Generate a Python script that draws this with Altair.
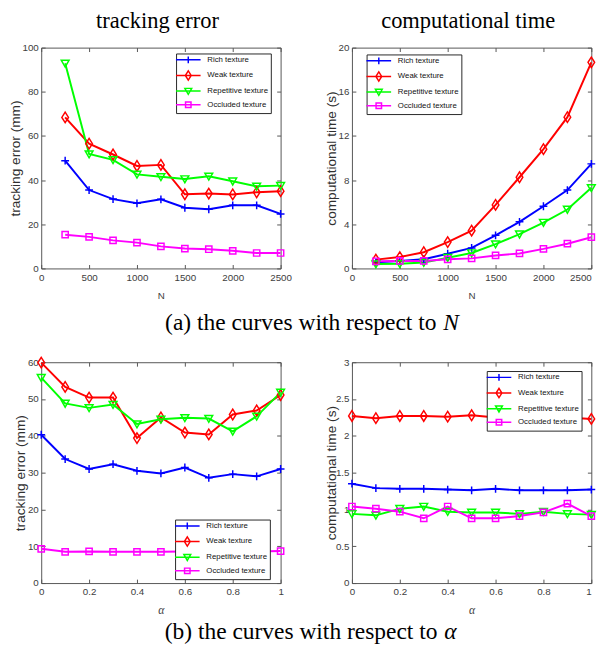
import altair as alt
import pandas as pd

SERIES = ["Rich texture", "Weak texture", "Repetitive texture", "Occluded texture"]
COLORS = ["#0000ff", "#ff0000", "#00ff00", "#ff00ff"]

N_VALUES = [250, 500, 750, 1000, 1250, 1500, 1750, 2000, 2250, 2500]
ALPHA_VALUES = [0.0, 0.1, 0.2, 0.3, 0.4, 0.5, 0.6, 0.7, 0.8, 0.9, 1.0]

# tracking error (mm) vs N
ERR_N_RICH = [48.8, 35.5, 31.4, 29.5, 31.3, 27.5, 26.8, 28.6, 28.6, 24.7]
ERR_N_WEAK = [68.4, 56.5, 51.6, 46.4, 46.9, 33.6, 33.9, 33.5, 34.5, 35.0]
ERR_N_REP = [92.9, 51.8, 49.2, 42.6, 41.5, 40.5, 41.7, 39.5, 37.2, 37.5]
ERR_N_OCC = [15.3, 14.3, 12.7, 11.7, 10.0, 9.0, 8.7, 8.0, 7.0, 7.0]

# computational time (s) vs N
T_N_RICH = [0.55, 0.68, 0.83, 1.33, 1.86, 3.0, 4.22, 5.63, 7.1, 9.47]
T_N_WEAK = [0.8, 1.03, 1.47, 2.39, 3.42, 5.75, 8.26, 10.8, 13.7, 18.67]
T_N_REP = [0.4, 0.42, 0.53, 0.97, 1.4, 2.2, 3.1, 4.16, 5.34, 7.3]
T_N_OCC = [0.65, 0.68, 0.68, 0.83, 0.91, 1.18, 1.36, 1.77, 2.24, 2.83]

# tracking error (mm) vs alpha
ERR_A_RICH = [40.3, 33.7, 31.0, 32.3, 30.5, 29.8, 31.4, 28.6, 29.6, 29.0, 31.0]
ERR_A_WEAK = [59.9, 53.3, 50.4, 50.4, 39.4, 45.0, 40.9, 40.4, 45.8, 46.9, 51.1]
ERR_A_REP = [55.8, 48.8, 47.6, 48.5, 43.2, 44.5, 44.9, 44.7, 41.2, 45.3, 51.8]
ERR_A_OCC = [9.3, 8.5, 8.6, 8.5, 8.5, 8.5, 8.6, 8.6, 8.6, 8.6, 8.7]

# computational time (s) vs alpha
T_A_RICH = [1.35, 1.29, 1.28, 1.28, 1.27, 1.26, 1.28, 1.26, 1.26, 1.26, 1.27]
T_A_WEAK = [2.27, 2.24, 2.27, 2.27, 2.26, 2.28, 2.25, 2.26, 2.26, 2.25, 2.23]
T_A_REP = [0.94, 0.92, 1.01, 1.04, 0.97, 0.96, 0.96, 0.94, 0.97, 0.94, 0.93]
T_A_OCC = [1.04, 1.01, 0.97, 0.88, 1.04, 0.88, 0.88, 0.91, 0.96, 1.08, 0.91]

N_TICKS = [0, 500, 1000, 1500, 2000, 2500]
A_TICKS = [0, 0.2, 0.4, 0.6, 0.8, 1]
ERR_N_TICKS = [0, 20, 40, 60, 80, 100]
T_N_TICKS = [0, 4, 8, 12, 16, 20]
ERR_A_TICKS = [0, 10, 20, 30, 40, 50, 60]
T_A_TICKS = [0, 0.5, 1, 1.5, 2, 2.5, 3]

MARKERS = [
    "M-1,0H1M0,-1V1",
    "M0,-1.35L0.85,0L0,1.35L-0.85,0Z",
    "M-1,-0.8L1,-0.8L0,0.95Z",
    "M-0.8,-0.8H0.8V0.8H-0.8Z",
]
LEGEND_MARKERS = ["M-3.6,0H3.6" + m for m in MARKERS]

SANS = "Liberation Sans"
SERIF = "Liberation Serif"
LABEL_COLOR = "#404040"
AXIS_COLOR = "#555555"
W, H = 245, 226


def panel(xs, series_values, xdom, xticks, xfmt, ydom, yticks, yfmt,
          ytitle, ytitle_x, xtitle, xtitle_font, xtitle_size, xtitle_style,
          legend_x, legend_y, top_title=None, caption=None, caption_x=0,
          caption_align="left", caption_y=60, caption_style="normal",
          right_edge=False):
    rows = []
    for name, ys in zip(SERIES, series_values):
        for x, y in zip(xs, ys):
            rows.append({"x": x, "y": y, "series": name})
    df = pd.DataFrame(rows)
    base = alt.Chart(df)
    xsc = alt.Scale(domain=xdom, nice=False, zero=False)
    ysc = alt.Scale(domain=ydom, nice=False, zero=False)

    if right_edge:
        label_align = {"condition": {"test": f"datum.value >= {xdom[1]}", "value": "right"},
                       "value": "center"}
    else:
        label_align = "center"

    x_main = alt.X("x:Q", scale=xsc, axis=alt.Axis(
        orient="bottom", values=xticks, format=xfmt, ticks=False, tickSize=0,
        domain=False, grid=False, labelPadding=4, labelFont=SANS, labelFontSize=10,
        labelColor=LABEL_COLOR, labelAlign=label_align,
        title=xtitle, titleFont=xtitle_font, titleFontSize=xtitle_size,
        titleFontStyle=xtitle_style, titleFontWeight="normal", titleColor=LABEL_COLOR,
        titleX=W / 2, titleY=31, titleAlign="center", titleBaseline="alphabetic"))
    y_main = alt.Y("y:Q", scale=ysc, axis=alt.Axis(
        orient="left", values=yticks, format=yfmt, ticks=False, tickSize=0,
        domain=False, grid=False, labelPadding=3, labelFont=SANS, labelFontSize=10,
        labelColor=LABEL_COLOR,
        title=ytitle, titleFont=SANS, titleFontSize=14, titleFontWeight="normal",
        titleColor="#303030", titleX=ytitle_x, titleY=H / 2, titleAngle=270,
        titleAlign="center", titleBaseline="middle"))
    x_none = alt.X("x:Q", scale=xsc, axis=None)
    y_none = alt.Y("y:Q", scale=ysc, axis=None)

    layers = []
    first = True
    for name, col in zip(SERIES, COLORS):
        sub = base.transform_filter(alt.datum.series == name)
        layers.append(sub.mark_line(color=col, strokeWidth=2).encode(
            x=x_main if first else x_none, y=y_main if first else y_none))
        first = False
    for name, col, shp in zip(SERIES, COLORS, MARKERS):
        sub = base.transform_filter(alt.datum.series == name)
        layers.append(sub.mark_point(shape=shp, filled=False, color=col,
                                     strokeWidth=1.5, size=64, opacity=1)
                      .encode(x=x_none, y=y_none))

    # inward ticks bottom / left (+ caption)
    if caption is not None:
        cap_kwargs = dict(title=caption, titleFont=SERIF, titleFontSize=24,
                          titleFontWeight="normal", titleFontStyle=caption_style,
                          titleColor="black", titleX=caption_x, titleY=caption_y,
                          titleAlign=caption_align, titleBaseline="alphabetic",
                          titleAngle=0)
    else:
        cap_kwargs = dict(title=None)
    if top_title is not None:
        top_kwargs = dict(title=top_title, titleFont=SERIF, titleFontSize=23,
                          titleFontWeight="normal", titleColor="black",
                          titleX=W / 2 - 4, titleY=-25, titleAlign="center",
                          titleBaseline="alphabetic", titleAngle=0)
    else:
        top_kwargs = dict(title=None)
    ticks1 = base.mark_point(opacity=0).encode(
        x=alt.X("x:Q", scale=xsc, axis=alt.Axis(
            orient="bottom", offset=-4, values=xticks, tickSize=4, labels=False,
            domain=False, grid=False, tickColor=AXIS_COLOR, **cap_kwargs)),
        y=alt.Y("y:Q", scale=ysc, axis=alt.Axis(
            orient="left", offset=-4, values=yticks, tickSize=4, labels=False,
            domain=False, grid=False, tickColor=AXIS_COLOR, title=None)))
    ticks2 = base.mark_point(opacity=0).encode(
        x=alt.X("x:Q", scale=xsc, axis=alt.Axis(
            orient="top", offset=-4, values=xticks, tickSize=4, labels=False,
            domain=False, grid=False, tickColor=AXIS_COLOR, **top_kwargs)),
        y=alt.Y("y:Q", scale=ysc, axis=alt.Axis(
            orient="right", offset=-4, values=yticks, tickSize=4, labels=False,
            domain=False, grid=False, tickColor=AXIS_COLOR, title=None)))
    layers += [ticks1, ticks2]

    leg = alt.Legend(title=None, orient="none", legendX=legend_x, legendY=legend_y,
                     fillColor="white", strokeColor="#262626", padding=2,
                     labelFont=SANS, labelFontSize=8, labelColor="#111111",
                     symbolSize=49, symbolStrokeWidth=1.5, symbolOffset=6,
                     symbolOpacity=1, labelOffset=15, rowPadding=1)
    legend_layer = base.mark_point(
        filled=False, strokeWidth=1.5, size=49, opacity=0).encode(
        x=x_none, y=y_none,
        color=alt.Color("series:N", scale=alt.Scale(domain=SERIES, range=COLORS),
                        legend=leg),
        shape=alt.Shape("series:N", scale=alt.Scale(domain=SERIES, range=LEGEND_MARKERS),
                        legend=leg))
    layers.append(legend_layer)

    ch = alt.layer(*layers).resolve_axis(x="independent", y="independent")
    return ch.properties(width=W, height=H)


p1 = panel(N_VALUES, [ERR_N_RICH, ERR_N_WEAK, ERR_N_REP, ERR_N_OCC],
           [0, 2500], N_TICKS, "d", [0, 100], ERR_N_TICKS, "d",
           "tracking error (mm)", -26, "N", SANS, 10, "normal",
           138, 6, top_title="tracking error",
           caption="(a) the curves with respect to", caption_x=404,
           caption_align="right", caption_y=67)
p2 = panel(N_VALUES, [T_N_RICH, T_N_WEAK, T_N_REP, T_N_OCC],
           [0, 2500], N_TICKS, "d", [0, 20], T_N_TICKS, "d",
           "computational time (s)", -21, "N", SANS, 10, "normal",
           15, 7, top_title="computational time",
           caption="N", caption_x=93, caption_align="left", caption_y=67,
           caption_style="italic", right_edge=True)
p3 = panel(ALPHA_VALUES, [ERR_A_RICH, ERR_A_WEAK, ERR_A_REP, ERR_A_OCC],
           [0, 1], A_TICKS, "~g", [0, 60], ERR_A_TICKS, "d",
           "tracking error (mm)", -21, "α", SERIF, 12, "italic",
           137, 161,
           caption="(b) the curves with respect to", caption_x=405,
           caption_align="right", caption_y=61)
p4 = panel(ALPHA_VALUES, [T_A_RICH, T_A_WEAK, T_A_REP, T_A_OCC],
           [0, 1], A_TICKS, "~g", [0, 3], T_A_TICKS, "~g",
           "computational time (s)", -21, "α", SERIF, 12, "italic",
           138, 9,
           caption="α", caption_x=94, caption_align="left", caption_y=61,
           caption_style="italic", right_edge=True)

chart = alt.concat(p1, p2, p3, p4, columns=2,
                   spacing={"row": 96, "column": 73}, bounds="flush").resolve_scale(
    color="independent", shape="independent"
).resolve_legend(
    color="independent", shape="independent"
).properties(
    padding={"top": -7, "left": 0, "right": 0, "bottom": 0}
).configure_view(stroke=AXIS_COLOR, strokeWidth=1)

chart.save("out.html", embed_options={"renderer": "svg", "actions": False})
